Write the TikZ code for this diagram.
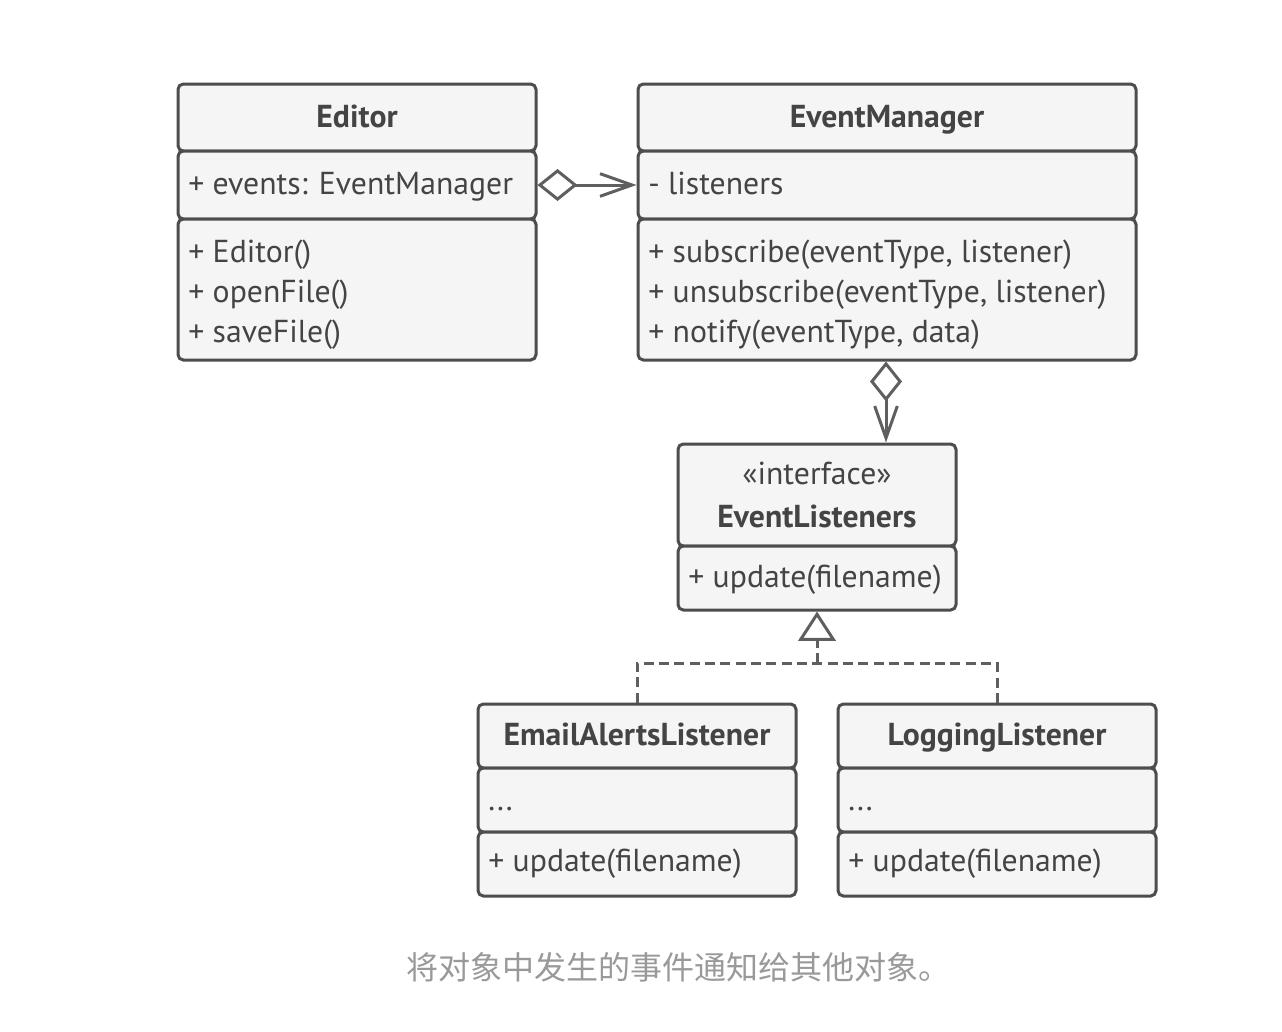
\documentclass[tikz,border=0pt]{standalone}
\usepackage{fontspec}
\setmainfont{PT Sans}
\newfontfamily\cjk{Noto Sans CJK SC}
\usetikzlibrary{arrows.meta,fit}
\definecolor{bd}{HTML}{4D4D4D}
\definecolor{fl}{HTML}{F5F5F5}
\definecolor{tx}{HTML}{444444}
\definecolor{capc}{HTML}{999999}
\definecolor{ln}{HTML}{5F5F5F}
\begin{document}
\begin{tikzpicture}[x=0.75pt,y=-0.75pt,
  sec/.style={draw=bd, fill=fl, line width=2.25pt, rounded corners=4pt, inner sep=0pt},
  lbl/.style={text=tx, font=\fontsize{23.8}{28}\selectfont, anchor=base west, inner sep=0pt},
  ttl/.style={text=tx, font=\fontsize{23.8}{28}\selectfont\bfseries, anchor=base, inner sep=0pt},
  agg/.style={draw=ln, line width=2.25pt, {Diamond[open,length=30pt,width=24pt]}-{Straight Barb[length=24pt,width=17pt]}},
  real/.style={draw=ln, line width=2.25pt, dash pattern=on 7.5pt off 4pt},
  tri/.style={-{Triangle[open,length=22pt,width=28pt]}}
]
\useasboundingbox (0,0) rectangle (1282,1032);
% Editor
\node[sec, fit={(178,84)(536,151)}] (edH) {};
\node[sec, fit={(178,151)(536,219)}] (edA) {};
\node[sec, fit={(178,219)(536,360)}] (edM) {};
\node[ttl] (edT) at (357,127) {Editor};
\node[lbl] (ed1) at (188,194) {+ events: EventManager};
\node[lbl] (ed2) at (188,262) {+ Editor()};
\node[lbl] (ed3) at (188,302) {+ openFile()};
\node[lbl] (ed4) at (188,342) {+ saveFile()};
% EventManager
\node[sec, fit={(638,84)(1136,151)}] (emH) {};
\node[sec, fit={(638,151)(1136,219)}] (emA) {};
\node[sec, fit={(638,219)(1136,360)}] (emM) {};
\node[ttl] (emT) at (887,127) {EventManager};
\node[lbl] (em1) at (648,194) {- listeners};
\node[lbl] (em2) at (648,262) {+ subscribe(eventType, listener)};
\node[lbl] (em3) at (648,302) {+ unsubscribe(eventType, listener)};
\node[lbl] (em4) at (648,342) {+ notify(eventType, data)};
% EventListeners
\node[sec, fit={(678,444)(956,546)}] (elH) {};
\node[sec, fit={(678,546)(956,610)}] (elM) {};
\node[text=tx, font=\fontsize{23.8}{28}\selectfont, anchor=base, inner sep=0pt] (elS) at (817,484) {«interface»};
\node[ttl] (elT) at (817,527) {EventListeners};
\node[lbl] (el1) at (688,587) {+ update(filename)};
% EmailAlertsListener
\node[sec, fit={(478,704)(796,768)}] (eaH) {};
\node[sec, fit={(478,768)(796,832)}] (eaA) {};
\node[sec, fit={(478,832)(796,896)}] (eaM) {};
\node[ttl] (eaT) at (637,745) {EmailAlertsListener};
\node[lbl] (ea1) at (488,810) {...};
\node[lbl] (ea2) at (488,871) {+ update(filename)};
% LoggingListener
\node[sec, fit={(838,704)(1156,768)}] (lgH) {};
\node[sec, fit={(838,768)(1156,832)}] (lgA) {};
\node[sec, fit={(838,832)(1156,896)}] (lgM) {};
\node[ttl] (lgT) at (997,745) {LoggingListener};
\node[lbl] (lg1) at (848,810) {...};
\node[lbl] (lg2) at (848,871) {+ update(filename)};
% connectors
\draw[agg] (edA.east) -- (emA.west);
\draw[agg] (emM.south -| 886,0) -- (elH.north -| 886,0);
\coordinate (j) at (817,663);
\draw[real] (eaH.north) |- (j) -| (lgH.north);
\draw[real,tri] (j) -- (elM.south);
% caption
\node[text=capc, font=\cjk\fontsize{24}{28}\selectfont, inner sep=0pt] (cap) at (678,967) {将对象中发生的事件通知给其他对象。};
\end{tikzpicture}
\end{document}
